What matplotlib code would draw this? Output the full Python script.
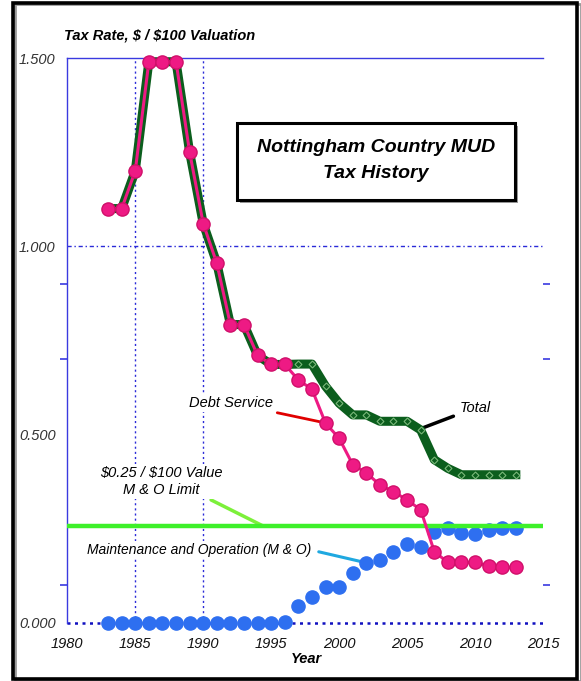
import matplotlib.pyplot as plt
from matplotlib.patches import Rectangle

plt.rcParams['font.family'] = ['Liberation Sans', 'DejaVu Sans']

years = list(range(1983, 2014))

total = [1.10, 1.10, 1.20, 1.49, 1.49, 1.49, 1.25, 1.06, 0.955, 0.792, 0.792,
         0.71, 0.686, 0.686, 0.687, 0.687, 0.628, 0.583, 0.552, 0.552, 0.535,
         0.535, 0.535, 0.512, 0.433, 0.41, 0.393, 0.393, 0.393, 0.393, 0.393]

debt = [1.10, 1.10, 1.20, 1.49, 1.49, 1.49, 1.25, 1.06, 0.955, 0.792, 0.792,
        0.71, 0.686, 0.686, 0.645, 0.62, 0.53, 0.49, 0.42, 0.398, 0.366,
        0.348, 0.326, 0.30, 0.189, 0.16, 0.16, 0.16, 0.151, 0.147, 0.147]

mo = [0, 0, 0, 0, 0, 0, 0, 0, 0, 0, 0, 0, 0, 0.003, 0.045, 0.069, 0.096,
      0.096, 0.131, 0.158, 0.167, 0.189, 0.208, 0.202, 0.242, 0.251, 0.238,
      0.235, 0.247, 0.251, 0.251]

mo_limit = 0.256

x_ticks = [1980, 1985, 1990, 1995, 2000, 2005, 2010, 2015]
y_ticks = [0.0, 0.5, 1.0, 1.5]
y_ticklabels = ['0.000', '0.500', '1.000', '1.500']
y_minor = [0.1, 0.7, 0.9]

grid_blue = '#3a3ae0'

fig = plt.figure(figsize=(5.81, 6.81), dpi=100)
ax = fig.add_axes([67.3 / 581, 1 - 622.7 / 681, (543 - 67.3) / 581, (622.7 - 58) / 681])

ax.set_xlim(1980, 2015)
ax.set_ylim(0, 1.5)

# grid lines (only a few in the original)
for yr in [1985, 1990]:
    ax.axvline(yr, color='#2a2ad8', lw=1.0, ls=(0, (1.5, 2.2)), zorder=1)
ax.axhline(1.0, color='#2a2ad8', lw=1.0, ls=(0, (3, 2, 1, 2)), zorder=1)
ax.axhline(0.0, color='#1010c0', lw=1.8, ls=(0, (1.2, 1.8)), zorder=1, clip_on=False)

# M&O limit line
ax.axhline(mo_limit, color='#3ef02a', lw=3.2, zorder=3)

# series
ax.plot(years, mo, 'o', color='#2e6ff0', ms=9.5, zorder=2.5, clip_on=False)
ax.plot(years, total, color='#0b5e1d', lw=6.5, marker='D', ms=3.5, mfc='none',
        mec='#7ab87a', mew=0.8, zorder=3.5, clip_on=False)
ax.plot(years, debt, color='#ee1a84', lw=2.2, marker='o', ms=9.5, mec='#d0106a',
        zorder=4, clip_on=False)

# axes styling
for side in ['right', 'bottom']:
    ax.spines[side].set_visible(False)
for side in ['left', 'top']:
    ax.spines[side].set_color(grid_blue)
    ax.spines[side].set_linewidth(1.0)

ax.set_xticks(x_ticks)
ax.set_xticklabels([str(x) for x in x_ticks], fontsize=10.5, style='italic', color='#111111')
ax.set_yticks(y_ticks)
ax.set_yticklabels(y_ticklabels, fontsize=10.5, style='italic', color='#333333')
ax.set_yticks(y_minor, minor=True)
ax.tick_params(axis='x', length=0, pad=10)
ax.tick_params(axis='y', which='major', length=0, pad=8.5)
ax.tick_params(axis='y', which='minor', length=5, width=1.2, color=grid_blue,
               direction='out', left=True, right=True)

# annotations
box = dict(facecolor='white', edgecolor='none', pad=1.5)
ax.annotate('Debt Service', xy=(1999.07, 0.530), xytext=(1995.1, 0.584),
            ha='right', va='center', fontsize=10.5, style='italic', bbox=box, zorder=2,
            arrowprops=dict(arrowstyle='-', color='#e00000', lw=2, shrinkA=3, shrinkB=0))
ax.annotate('Total', xy=(2005.9, 0.514), xytext=(2008.9, 0.571),
            ha='left', va='center', fontsize=10.5, style='italic', zorder=2,
            arrowprops=dict(arrowstyle='-', color='black', lw=2.5, shrinkA=3, shrinkB=0))
ax.annotate('\\$0.25 / \\$100 Value\nM & O Limit', xy=(1994.4, 0.257), xytext=(1986.94, 0.375),
            ha='center', va='center', fontsize=10.5, style='italic', linespacing=1.2,
            bbox=box, zorder=2,
            arrowprops=dict(arrowstyle='-', color='#7cf03a', lw=2.5, shrinkA=2, shrinkB=0,
                            relpos=(0.85, 0.0)))
ax.annotate('Maintenance and Operation (M & O)', xy=(2002.13, 0.158), xytext=(1981.45, 0.193),
            ha='left', va='center', fontsize=10, style='italic', bbox=box, zorder=2,
            arrowprops=dict(arrowstyle='-', color='#1fa8e0', lw=2.2, shrinkA=4, shrinkB=0,
                            relpos=(1.0, 0.5)))

# labels
fig.text(64 / 581, 1 - 36 / 681, 'Tax Rate, \\$ / \\$100 Valuation', fontsize=10.5,
         weight='bold', style='italic', ha='left', va='center')
fig.text(306.7 / 581, 1 - 659 / 681, 'Year', fontsize=10.5, weight='bold',
         style='italic', ha='center', va='center')

# title box
fig.patches.append(Rectangle((240 / 581, 1 - 203 / 681), 278 / 581, 77 / 681,
                             transform=fig.transFigure, facecolor='#999999',
                             edgecolor='none', zorder=5))
fig.patches.append(Rectangle((237 / 581, 1 - 200 / 681), 278 / 581, 77 / 681,
                             transform=fig.transFigure, facecolor='white',
                             edgecolor='black', lw=2.2, zorder=6))
fig.text(376 / 581, 1 - 148 / 681, 'Nottingham Country MUD', fontsize=14,
         weight='bold', style='italic', ha='center', va='center', zorder=7)
fig.text(376 / 581, 1 - 174 / 681, 'Tax History', fontsize=14,
         weight='bold', style='italic', ha='center', va='center', zorder=7)

# outer frame
fig.patches.append(Rectangle((15 / 581, 1 - 681 / 681), 566 / 581, 677 / 681,
                             transform=fig.transFigure, facecolor='none',
                             edgecolor='#9a9a9a', lw=2.0, zorder=8))
fig.patches.append(Rectangle((12.5 / 581, 1 - 678.5 / 681), 564 / 581, 675.5 / 681,
                             transform=fig.transFigure, facecolor='none',
                             edgecolor='black', lw=2.6, zorder=9))

fig.savefig('out.png', dpi=100)
